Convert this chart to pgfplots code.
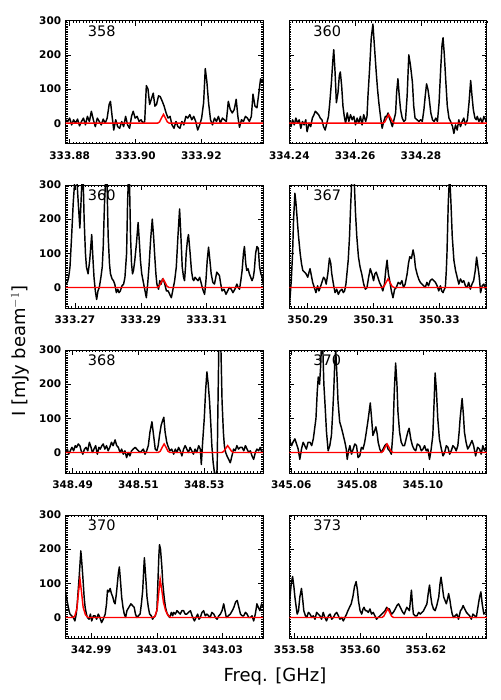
\documentclass[border=0pt]{standalone}
\usepackage{fontspec}
\setmainfont{DejaVu Sans}
\usepackage{pgfplots}
\pgfplotsset{compat=1.18}

% x values are offsets in MHz from the first labelled frequency of each panel
\pgfplotsset{
  panel/.style={
    scale only axis, width=197.5pt, height=123pt, anchor=north west,
    ymin=-60, ymax=300, ytick={0,100,200,300},
    minor ytick={-60,-55,...,300},
    minor xtick={-10,-9,...,60},
    tick align=inside, tick pos=both,
    major tick length=5pt, minor tick length=2pt,
    every tick/.style={black, line width=0.5pt},
    axis line style={line width=0.9pt},
    /pgf/number format/assume math mode=true,
    ticklabel style={font=\fontsize{10.5}{12}\selectfont\bfseries},
    xticklabel style={yshift=-4.5pt},
    yticklabel style={xshift=-1pt},
  },
  rpanel/.style={panel, yticklabels={}},
  spec/.style={black, line width=1.45pt, mark=none, line join=round},
  model/.style={red, line width=1.45pt, mark=none},
}
\tikzset{lab/.style={anchor=north west, inner sep=0pt, font=\fontsize{14.5}{16}\selectfont}}

\begin{document}
\begin{tikzpicture}
\path[use as bounding box] (0,0) rectangle (500pt,-700pt);

% ---- row 1 left: 358
\begin{axis}[panel, at={(65.7pt,-20.7pt)}, xmin=-1.2, xmax=58.8,
  xtick={0,20,40}, xticklabels={333.88,333.90,333.92}]
\addplot[spec] coordinates {
(-1.2,10) (-0.6,5) (0.0,15) (0.6,-5) (1.2,10) (1.8,0) (2.4,12) (3.0,-8) (3.6,5) (4.2,15) (4.8,-5) (5.4,20) (6.0,5) (6.6,35) (7.2,10) (7.8,-10) (8.4,15) (9.0,5) (9.6,-5) (10.2,12) (10.8,0) (11.4,15) (12.0,55) (12.4,64) (12.9,20) (13.4,-20) (14.0,10) (14.6,-10) (15.2,-15) (15.8,5) (16.4,-10) (17.0,20) (17.6,-5) (18.2,-15) (18.8,20) (19.3,35) (19.9,15) (20.5,20) (21.1,5) (21.7,10) (22.3,0) (22.8,5) (23.3,110) (23.8,100) (24.3,55) (24.8,70) (25.4,88) (25.9,50) (26.4,55) (27.0,80) (27.5,78) (28.1,65) (28.7,50) (29.3,30) (29.9,15) (30.5,20) (31.1,-5) (31.7,-15) (32.3,5) (32.9,-10) (33.5,-15) (34.1,5) (34.7,-5) (35.3,20) (35.9,15) (36.5,25) (37.1,10) (37.7,20) (38.3,5) (38.9,-20) (39.5,-5) (40.1,15) (40.7,60) (41.2,160) (41.7,120) (42.2,60) (42.8,10) (43.4,-5) (44.0,15) (44.6,5) (45.2,20) (45.8,0) (46.4,15) (47.0,10) (47.6,5) (48.2,64) (48.8,40) (49.4,30) (50.0,40) (50.6,70) (51.1,20) (51.6,-12) (52.2,10) (52.8,5) (53.4,20) (54.0,15) (54.6,5) (55.2,20) (55.7,85) (56.3,50) (56.9,45) (57.5,90) (58.0,130) (58.5,120) (58.8,130)
};
\addplot[model] coordinates {
(-1.2,0) (26.7,0) (27.3,3.5) (27.9,15) (28.5,26) (29.1,15) (29.7,3.5) (30.3,0) (58.8,0)
};
\node[lab] at (rel axis cs:0.111,0.96) {358};
\end{axis}

% ---- row 1 right: 360
\begin{axis}[rpanel, at={(289.3pt,-20.7pt)}, xmin=0, xmax=60,
  xtick={0,20,40}, xticklabels={334.24,334.26,334.28}]
\addplot[spec] coordinates {
(0.0,5) (0.5,-10) (1.0,10) (1.5,-5) (2.0,15) (2.5,0) (3.0,10) (3.5,-15) (4.0,5) (4.5,-5) (5.0,10) (5.4,-25) (6.0,0) (6.5,-10) (7.0,15) (7.5,25) (7.9,35) (8.4,30) (8.9,25) (9.4,15) (9.9,10) (10.4,-10) (10.9,-20) (11.4,0) (11.9,20) (12.3,60) (12.8,120) (13.2,180) (13.5,215) (13.9,150) (14.3,60) (14.8,90) (15.2,140) (15.5,150) (15.9,110) (16.3,50) (16.7,20) (17.1,0) (17.6,30) (18.1,5) (18.6,25) (19.1,10) (19.6,20) (20.1,-5) (20.6,15) (21.1,0) (21.6,20) (22.1,-5) (22.6,25) (23.2,5) (23.6,20) (23.9,80) (24.4,160) (24.9,250) (25.4,290) (25.9,220) (26.4,150) (26.8,100) (27.2,60) (27.7,20) (28.2,-15) (28.7,5) (29.2,20) (29.6,20) (30.0,30) (30.4,15) (30.8,5) (31.3,-10) (31.8,10) (32.3,30) (32.6,90) (33.0,130) (33.4,80) (33.8,40) (34.3,15) (34.8,5) (35.3,10) (35.8,80) (36.3,200) (36.8,170) (37.4,120) (37.8,50) (38.2,15) (38.8,10) (39.4,5) (39.9,10) (40.4,5) (40.9,40) (41.3,80) (41.7,115) (42.1,100) (42.4,80) (43.0,30) (43.5,10) (44.0,5) (44.5,15) (45.0,5) (45.5,60) (46.0,160) (46.4,230) (46.7,250) (47.1,200) (47.5,130) (48.0,50) (48.5,15) (49.0,5) (49.6,-10) (50.0,-30) (50.5,-5) (51.0,-20) (51.5,10) (52.0,-10) (52.5,5) (53.0,15) (53.5,-5) (54.1,10) (54.6,60) (55.1,125) (55.5,80) (55.9,40) (56.4,15) (56.8,10) (57.1,20) (57.6,5) (58.1,15) (58.6,0) (59.1,20) (59.6,10) (60.0,15)
};
\addplot[model] coordinates {
(0,0) (28.4,0) (29.0,3.5) (29.6,15) (30.2,25) (30.8,15) (31.4,3.5) (32.0,0) (60,0)
};
\node[lab] at (rel axis cs:0.121,0.96) {360};
\end{axis}

% ---- row 2 left: 360
\begin{axis}[panel, at={(65.7pt,-185pt)}, xmin=-2.8, xmax=57.2,
  xtick={0,20,40}, xticklabels={333.27,333.29,333.31}]
\addplot[spec] coordinates {
(-2.8,10) (-2.3,15) (-1.9,30) (-1.5,60) (-1.0,150) (-0.5,250) (0.0,320) (0.5,330) (1.0,250) (1.5,174) (1.9,260) (2.2,330) (2.5,320) (2.8,200) (3.2,100) (3.5,60) (4.0,40) (4.5,80) (5.1,155) (5.5,80) (5.8,30) (6.2,-10) (6.6,-35) (7.0,-10) (7.4,0) (7.9,30) (8.3,60) (8.6,120) (9.0,250) (9.4,330) (9.7,330) (10.1,150) (10.5,70) (10.8,40) (11.3,25) (11.7,20) (12.1,10) (12.6,-15) (13.0,-5) (13.4,-15) (13.8,-10) (14.3,5) (14.8,10) (15.2,30) (15.7,100) (16.0,250) (16.3,330) (16.6,300) (16.9,150) (17.2,70) (17.5,40) (17.8,50) (18.2,80) (18.7,130) (19.2,190) (19.6,130) (19.9,80) (20.3,40) (20.7,20) (21.2,-5) (21.7,-30) (22.1,10) (22.5,60) (23.0,140) (23.5,200) (23.9,150) (24.2,100) (24.6,40) (24.9,10) (25.4,-5) (25.8,20) (26.2,10) (26.6,25) (27.0,20) (27.3,10) (27.8,-10) (28.3,-10) (28.8,-20) (29.3,-30) (29.8,-5) (30.3,20) (30.8,60) (31.3,150) (31.8,230) (32.2,150) (32.6,60) (33.0,30) (33.3,20) (33.6,60) (33.8,100) (34.2,140) (34.5,155) (35.0,100) (35.4,50) (35.8,25) (36.1,20) (36.5,30) (36.9,25) (37.4,20) (37.9,30) (38.3,15) (38.7,0) (39.0,-10) (39.4,-20) (39.8,20) (40.2,80) (40.6,118) (41.0,80) (41.4,40) (41.9,15) (42.4,10) (42.8,30) (43.1,45) (43.5,40) (43.9,35) (44.3,10) (44.7,-10) (45.3,-5) (45.9,-20) (46.4,-10) (46.9,0) (47.5,-5) (48.0,-15) (48.6,-5) (49.2,10) (49.6,0) (50.0,-5) (50.4,20) (50.8,50) (51.2,100) (51.5,120) (51.9,70) (52.2,50) (52.6,55) (53.0,40) (53.4,30) (53.8,20) (54.2,30) (54.5,50) (54.9,100) (55.3,120) (55.7,115) (56.1,60) (56.5,40) (56.9,30) (57.2,10)
};
\addplot[model] coordinates {
(-2.8,0) (25.0,0) (25.6,3.5) (26.2,15) (26.8,25) (27.4,15) (28.0,3.5) (28.6,0) (57.2,0)
};
\node[lab] at (rel axis cs:0.111,0.96) {360};
\end{axis}

% ---- row 2 right: 367
\begin{axis}[rpanel, at={(289.3pt,-185pt)}, xmin=-5.6, xmax=54.4,
  xtick={0,20,40}, xticklabels={350.29,350.31,350.33}]
\addplot[spec] coordinates {
(-5.6,-55) (-5.3,-20) (-5.0,20) (-4.6,100) (-4.3,200) (-3.9,276) (-3.6,250) (-3.2,200) (-2.8,150) (-2.3,100) (-1.9,70) (-1.5,50) (-1.0,45) (-0.5,40) (0.0,30) (0.4,45) (0.7,55) (1.1,35) (1.5,15) (2.0,0) (2.5,-15) (3.0,5) (3.4,-10) (3.8,0) (4.3,15) (4.8,30) (5.2,25) (5.6,10) (6.1,40) (6.6,86) (7.0,70) (7.3,40) (7.8,10) (8.3,-15) (8.8,-5) (9.3,-20) (9.8,-10) (10.4,-5) (10.8,-15) (11.2,-10) (11.6,10) (11.9,40) (12.3,80) (12.7,150) (13.0,230) (13.4,320) (13.7,330) (14.1,320) (14.5,220) (14.9,150) (15.4,90) (15.9,60) (16.4,40) (17.0,10) (17.5,-5) (18.0,0) (18.5,30) (19.0,55) (19.5,40) (20.0,20) (20.4,40) (20.8,45) (21.3,30) (21.8,15) (22.3,5) (22.8,-10) (23.3,10) (23.7,50) (24.1,80) (24.5,40) (24.9,20) (25.4,-10) (25.9,-30) (26.4,-5) (26.9,0) (27.5,15) (28.1,10) (28.6,20) (29.1,0) (29.6,10) (30.2,40) (30.6,70) (31.0,90) (31.5,85) (32.0,110) (32.4,90) (32.7,60) (33.2,40) (33.7,25) (34.2,15) (34.7,10) (35.2,5) (35.7,0) (36.2,15) (36.7,5) (37.2,20) (37.8,25) (38.3,20) (38.8,15) (39.3,5) (39.8,-10) (40.3,5) (40.7,-10) (41.1,-15) (41.5,-5) (41.8,0) (42.1,50) (42.3,100) (42.7,250) (43.1,330) (43.5,250) (43.9,150) (44.4,80) (44.9,50) (45.4,30) (45.9,10) (46.4,25) (46.9,15) (47.4,20) (47.9,5) (48.4,0) (48.9,15) (49.4,-5) (49.9,10) (50.4,20) (50.9,50) (51.3,89) (51.7,60) (52.0,40) (52.3,10) (52.5,-15) (53.0,5) (53.5,10) (54.0,-5) (54.4,20)
};
\addplot[model] coordinates {
(-5.6,0) (22.6,0) (23.2,3.5) (23.8,15) (24.4,25) (25.0,15) (25.6,3.5) (26.2,0) (54.4,0)
};
\node[lab] at (rel axis cs:0.121,0.96) {367};
\end{axis}

% ---- row 3 left: 368
\begin{axis}[panel, at={(65.7pt,-350pt)}, xmin=-2.1, xmax=57.9,
  xtick={0,20,40}, xticklabels={348.49,348.51,348.53}]
\addplot[spec] coordinates {
(-2.1,0) (-1.6,10) (-1.2,-5) (-0.7,5) (-0.2,15) (0.3,5) (0.8,20) (1.2,15) (1.7,25) (2.2,20) (2.6,5) (3.1,-5) (3.6,10) (4.1,15) (4.6,5) (5.1,30) (5.6,15) (6.0,0) (6.5,10) (7.0,20) (7.5,-5) (8.0,15) (8.4,10) (8.9,20) (9.3,25) (9.8,10) (10.3,20) (10.8,5) (11.3,15) (11.8,30) (12.3,20) (12.9,37) (13.4,20) (13.9,15) (14.4,0) (14.9,10) (15.4,-5) (15.9,5) (16.4,-15) (16.9,0) (17.4,-10) (17.9,5) (18.4,10) (19.0,15) (19.5,10) (20.0,5) (20.5,0) (21.0,5) (21.5,10) (22.0,-5) (22.5,5) (23.0,20) (23.5,60) (24.1,90) (24.6,50) (25.1,10) (25.6,5) (26.0,20) (26.4,50) (26.9,80) (27.4,95) (27.7,103) (28.1,60) (28.6,30) (29.1,15) (29.6,5) (30.1,10) (30.7,-5) (31.2,10) (31.7,0) (32.2,15) (32.7,5) (33.2,-10) (33.7,10) (34.2,20) (34.7,10) (35.2,0) (35.7,15) (36.2,5) (36.7,-5) (37.2,10) (37.7,0) (38.3,20) (38.8,10) (39.1,-35) (39.5,30) (40.0,100) (40.4,180) (40.8,236) (41.2,200) (41.6,150) (42.0,80) (42.3,20) (42.7,-30) (43.1,-60) (43.5,-70) (43.9,-50) (44.1,100) (44.4,300) (44.7,340) (45.0,330) (45.4,150) (45.8,60) (46.1,20) (46.5,0) (46.9,-10) (47.4,-20) (47.9,-30) (48.4,-10) (48.9,10) (49.4,5) (49.9,20) (50.4,10) (50.9,15) (51.5,15) (52.0,5) (52.5,20) (53.0,10) (53.5,0) (54.0,5) (54.5,-10) (55.0,-20) (55.5,0) (56.0,10) (56.5,5) (57.0,15) (57.5,0) (57.9,5)
};
\addplot[model] coordinates {
(-2.1,0) (26.0,0) (26.6,3.5) (27.2,15) (27.8,25) (28.4,15) (29.0,3.5) (29.6,0) (45.3,0) (45.9,3) (46.5,12) (47.1,20) (47.7,12) (48.3,3) (48.9,0) (57.9,0)
};
\node[lab] at (rel axis cs:0.111,0.96) {368};
\end{axis}

% ---- row 3 right: 370
\begin{axis}[rpanel, at={(289.3pt,-350pt)}, xmin=-0.6, xmax=59.4,
  xtick={0,20,40}, xticklabels={345.06,345.08,345.10}]
\node[lab] at (rel axis cs:0.121,0.96) {370};
\addplot[spec] coordinates {
(-0.6,50) (-0.3,30) (0.1,20) (0.5,30) (1.1,40) (1.6,25) (2.1,10) (2.6,-20) (3.1,10) (3.6,30) (4.1,20) (4.6,10) (5.1,30) (5.7,30) (6.2,20) (6.7,40) (7.1,70) (7.5,100) (7.9,180) (8.2,221) (8.6,200) (8.9,250) (9.2,320) (9.5,330) (9.9,200) (10.2,150) (10.7,60) (11.2,5) (11.7,20) (12.2,50) (12.6,120) (12.9,180) (13.2,260) (13.5,300) (13.9,220) (14.2,150) (14.7,90) (15.3,70) (15.8,50) (16.3,30) (16.7,10) (17.0,-20) (17.4,5) (17.8,20) (18.3,-5) (18.8,10) (19.3,25) (19.8,20) (20.3,-15) (20.8,-10) (21.3,15) (21.8,10) (22.3,30) (22.8,60) (23.4,100) (24.0,145) (24.4,100) (24.8,50) (25.2,60) (25.7,75) (26.1,55) (26.4,30) (26.9,10) (27.4,0) (27.9,10) (28.4,20) (28.9,25) (29.4,10) (29.9,5) (30.4,-5) (30.9,60) (31.3,180) (31.7,262) (32.1,200) (32.4,120) (32.9,60) (33.4,30) (33.9,20) (34.4,20) (34.9,40) (35.4,60) (35.8,71) (36.3,40) (36.8,20) (37.3,10) (37.8,5) (38.3,25) (39.0,20) (39.5,5) (40.0,10) (40.5,20) (41.0,5) (41.5,10) (42.0,-20) (42.5,10) (43.0,50) (43.4,150) (43.7,233) (44.1,180) (44.5,100) (45.0,40) (45.6,10) (46.1,-10) (46.6,0) (47.1,20) (47.6,15) (48.1,-5) (48.6,5) (49.1,20) (49.6,15) (50.1,5) (50.6,20) (51.0,60) (51.3,100) (51.9,158) (52.3,110) (52.6,60) (53.1,30) (53.6,10) (54.2,20) (54.9,35) (55.4,20) (56.0,-10) (56.6,15) (57.2,10) (57.7,-5) (58.2,20) (58.7,5) (59.2,15) (59.4,20)
};
\addplot[model] coordinates {
(-0.6,0) (27.3,0) (27.9,3.5) (28.5,15) (29.1,25) (29.7,15) (30.3,3.5) (30.9,0) (59.4,0)
};
\end{axis}

% ---- row 4 left: 370
\begin{axis}[panel, at={(65.7pt,-515pt)}, xmin=-7.7, xmax=52.3,
  xtick={0,20,40}, xticklabels={342.99,343.01,343.03}]
\addplot[spec] coordinates {
(-7.7,70) (-7.4,55) (-7.1,40) (-6.7,20) (-6.4,10) (-5.9,5) (-5.4,0) (-4.9,-10) (-4.5,10) (-4.2,40) (-3.9,80) (-3.6,120) (-3.1,195) (-2.8,160) (-2.5,120) (-2.1,60) (-1.8,30) (-1.4,10) (-1.1,0) (-0.6,-5) (-0.2,10) (0.2,-10) (0.7,5) (1.2,5) (1.7,-5) (2.2,10) (2.7,0) (3.2,-15) (3.7,-5) (4.3,10) (4.7,40) (5.0,80) (5.4,75) (5.8,85) (6.2,70) (6.6,60) (7.0,45) (7.3,40) (7.7,70) (8.0,100) (8.3,130) (8.6,148) (9.0,100) (9.3,60) (9.7,30) (10.1,10) (10.5,0) (10.9,20) (11.5,30) (12.1,40) (12.6,35) (13.1,30) (13.5,10) (13.9,0) (14.4,5) (14.9,10) (15.3,40) (15.7,80) (16.0,140) (16.2,175) (16.6,120) (17.0,60) (17.4,30) (17.8,10) (18.3,5) (18.7,-5) (19.0,0) (19.5,5) (20.0,20) (20.3,100) (20.6,180) (20.8,213) (21.1,200) (21.5,150) (21.8,100) (22.2,60) (22.6,30) (23.0,15) (23.5,5) (23.9,0) (24.4,15) (24.8,5) (25.1,15) (25.6,10) (26.1,20) (26.6,15) (27.1,10) (27.6,20) (28.1,20) (28.6,10) (29.1,10) (29.6,15) (30.2,20) (30.7,5) (31.4,-10) (31.9,0) (32.4,10) (32.8,-5) (33.2,0) (33.7,15) (34.2,20) (34.7,5) (35.2,10) (35.7,5) (36.2,0) (36.7,15) (37.3,10) (37.8,0) (38.3,-5) (38.8,5) (39.3,10) (39.8,20) (40.3,40) (40.7,20) (41.1,0) (41.7,5) (42.3,10) (42.9,20) (43.4,30) (43.9,45) (44.4,50) (44.9,30) (45.4,10) (45.9,5) (46.4,5) (46.9,15) (47.4,10) (47.9,0) (48.4,0) (48.9,5) (49.4,-10) (49.9,10) (50.4,40) (50.8,30) (51.3,20) (51.8,40) (52.3,30)
};
\addplot[model] coordinates {
(-7.7,0) (-5.8,0) (-5.0,3) (-4.3,25) (-3.8,75) (-3.35,112) (-2.9,75) (-2.4,30) (-1.7,8) (-0.9,0) (18.6,0) (19.4,3) (20.1,25) (20.6,75) (21.0,112) (21.5,80) (22.0,45) (22.6,22) (23.3,7) (24.2,0) (52.3,0)
};
\node[lab] at (rel axis cs:0.111,0.96) {370};
\end{axis}

% ---- row 4 right: 373
\begin{axis}[rpanel, at={(289.3pt,-515pt)}, xmin=-1.5, xmax=58.5,
  xtick={0,20,40}, xticklabels={353.58,353.60,353.62}]
\addplot[spec] coordinates {
(-1.5,20) (-1.3,60) (-0.9,100) (-0.5,120) (-0.1,90) (0.2,60) (0.6,30) (0.9,10) (1.3,20) (1.7,60) (2.2,85) (2.6,50) (2.9,20) (3.4,5) (3.8,0) (4.3,15) (4.8,10) (5.3,0) (5.8,5) (6.3,-5) (6.8,15) (7.3,10) (7.8,5) (8.3,-5) (8.8,15) (9.3,0) (9.8,-10) (10.4,5) (10.9,10) (11.4,-5) (11.9,0) (12.4,10) (12.9,15) (13.4,5) (13.9,-5) (14.4,0) (14.9,-10) (15.4,0) (15.9,10) (16.3,20) (16.8,30) (17.3,40) (17.8,60) (18.3,90) (18.8,105) (19.2,80) (19.5,50) (20.0,20) (20.5,10) (20.9,25) (21.2,30) (21.6,20) (22.0,20) (22.5,15) (23.0,25) (23.5,10) (24.0,15) (24.5,5) (25.0,-5) (25.5,0) (26.1,5) (26.6,10) (27.1,15) (27.6,20) (28.1,30) (28.5,25) (28.9,25) (29.3,15) (29.6,10) (30.1,15) (30.7,25) (31.2,35) (31.7,40) (32.2,30) (32.7,20) (33.0,15) (33.4,10) (33.8,20) (34.2,30) (34.6,25) (35.0,20) (35.3,50) (35.6,80) (35.9,40) (36.2,10) (36.7,5) (37.3,5) (37.8,15) (38.3,10) (38.8,15) (39.3,20) (39.8,30) (40.3,40) (40.7,70) (41.1,95) (41.5,60) (41.8,40) (42.3,25) (42.8,20) (43.3,35) (43.9,60) (44.3,100) (44.6,118) (45.0,90) (45.4,60) (45.8,50) (46.2,40) (46.6,55) (46.9,70) (47.3,50) (47.6,30) (48.0,10) (48.4,0) (48.9,5) (49.4,10) (49.9,-5) (50.5,20) (50.9,25) (51.3,35) (51.8,25) (52.3,15) (52.8,10) (53.3,5) (53.8,-5) (54.3,10) (54.8,5) (55.3,0) (55.8,30) (56.3,60) (56.7,75) (57.1,40) (57.6,10) (58.1,15) (58.5,20)
};
\addplot[model] coordinates {
(-1.5,0) (26.6,0) (27.2,3.5) (27.8,15) (28.4,26) (29.0,15) (29.6,3.5) (30.2,0) (58.5,0)
};
\node[lab] at (rel axis cs:0.121,0.96) {373};
\end{axis}

\node[font=\fontsize{18}{20}\selectfont] at (275pt,-677pt) {Freq. [GHz]};
\node[rotate=90, font=\fontsize{18}{20}\selectfont] at (20pt,-351pt) {I [mJy beam$^{-1}$]};
\end{tikzpicture}
\end{document}
